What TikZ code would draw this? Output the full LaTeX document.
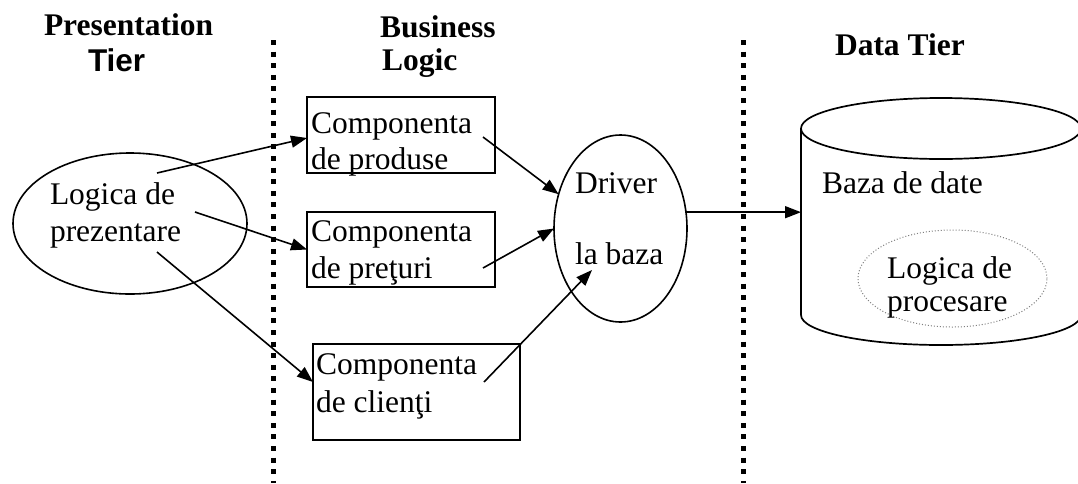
\documentclass[tikz,border=0pt]{standalone}
\usepackage{fontspec}
\setmainfont{Liberation Serif}
\newfontfamily\headsans{Liberation Sans}
\usetikzlibrary{arrows.meta,shapes.geometric}

\tikzset{
  txt/.style={anchor=base west, inner sep=0pt, outer sep=0pt,
              font=\fontsize{31.5}{36}\selectfont},
  head/.style={txt, font=\fontsize{31.5}{36}\selectfont\bfseries},
  headsf/.style={txt, font=\fontsize{31.5}{36}\selectfont\headsans\bfseries},
  compbox/.style={draw, line width=1.6pt, inner sep=0pt, outer sep=0pt},
  oval/.style={draw, ellipse, line width=1.6pt, inner sep=0pt, outer sep=0pt},
  procoval/.style={draw=black!50, ellipse, line width=1pt, dotted,
                   inner sep=0pt, outer sep=0pt},
  tierline/.style={line width=5pt, dash pattern=on 5pt off 6.6pt},
  flow/.style={line width=1.6pt, -{Triangle[length=16pt,width=12pt]}},
}

\begin{document}
\begin{tikzpicture}[x=1pt, y=-1pt]
  \clip (0,0) rectangle (1078,483);
  \fill[white] (0,0) rectangle (1078,483);

  % tier separators
  \coordinate (sepAtop) at (273,40);
  \coordinate (sepAbot) at (273,483);
  \coordinate (sepBtop) at (743,40);
  \coordinate (sepBbot) at (743,483);
  \draw[tierline] (sepAtop) -- (sepAbot);
  \draw[tierline] (sepBtop) -- (sepBbot);

  % tier headings
  \node[head]   (hPres) at (44,35)  {Presentation};
  \node[headsf] (hTier) at (88,71)  {Tier};
  \node[head]   (hBus)  at (380,37) {Business};
  \node[head]   (hLog)  at (382,70) {Logic};
  \node[head]   (hData) at (835,55) {Data Tier};

  % presentation logic
  \node[oval, minimum width=234pt, minimum height=141pt] (pres) at (130,223.5) {};
  \node[txt] (presA) at (50,204) {Logica de};
  \node[txt] (presB) at (50,241) {prezentare};

  % business components
  \node[compbox, minimum width=188pt, minimum height=76pt] (prod) at (401,135) {};
  \node[txt] (prodA) at (311,133) {Componenta};
  \node[txt] (prodB) at (311,169) {de produse};

  \node[compbox, minimum width=188pt, minimum height=75pt] (pret) at (401,249.5) {};
  \node[txt] (pretA) at (311,241) {Componenta};
  \node[txt] (pretB) at (311,278) {de preţuri};

  \node[compbox, minimum width=207pt, minimum height=96pt] (cli) at (416.5,392) {};
  \node[txt] (cliA) at (316,374) {Componenta};
  \node[txt] (cliB) at (316,412) {de clienţi};

  % database driver
  \node[oval, minimum width=133pt, minimum height=187pt] (drv) at (620.5,228.5) {};
  \node[txt] (drvA) at (575,193) {Driver};
  \node[txt] (drvB) at (575,264) {la baza};

  % database cylinder
  \coordinate (dbW) at (801,128.5);
  \draw[line width=1.7pt] (941,128.5) ellipse [x radius=140, y radius=30.5];
  \draw[line width=1.7pt] (dbW) -- (801,315)
       arc[start angle=180, end angle=360, x radius=140, y radius=-30] -- (1081,128.5);
  \node[txt] (dbA) at (822,193) {Baza de date};
  \node[procoval, minimum width=189pt, minimum height=97pt] (proc) at (952.5,278.5) {};
  \node[txt] (procA) at (887,278) {Logica de};
  \node[txt] (procB) at (887,311) {procesare};

  % connector start points
  \coordinate (s1) at (157,173);
  \coordinate (s2) at (195,212);
  \coordinate (s3) at (157,252);
  \coordinate (s4) at (483,137);
  \coordinate (s5) at (483,268);
  \coordinate (s6) at (484,382);
  \coordinate (t6) at (592,270);

  % connectors
  \draw[flow] (s1) -- ([yshift=-3pt]prod.west);
  \draw[flow] (s2) -- (pret.west);
  \draw[flow] (s3) -- ([yshift=10pt]cli.west);
  \draw[flow] (s4) -- (drv.151);
  \draw[flow] (s5) -- (drv.west);
  \draw[flow] (s6) -- (t6);
  \draw[flow] (drv.14) -- (drv.14 -| dbW);
\end{tikzpicture}
\end{document}
